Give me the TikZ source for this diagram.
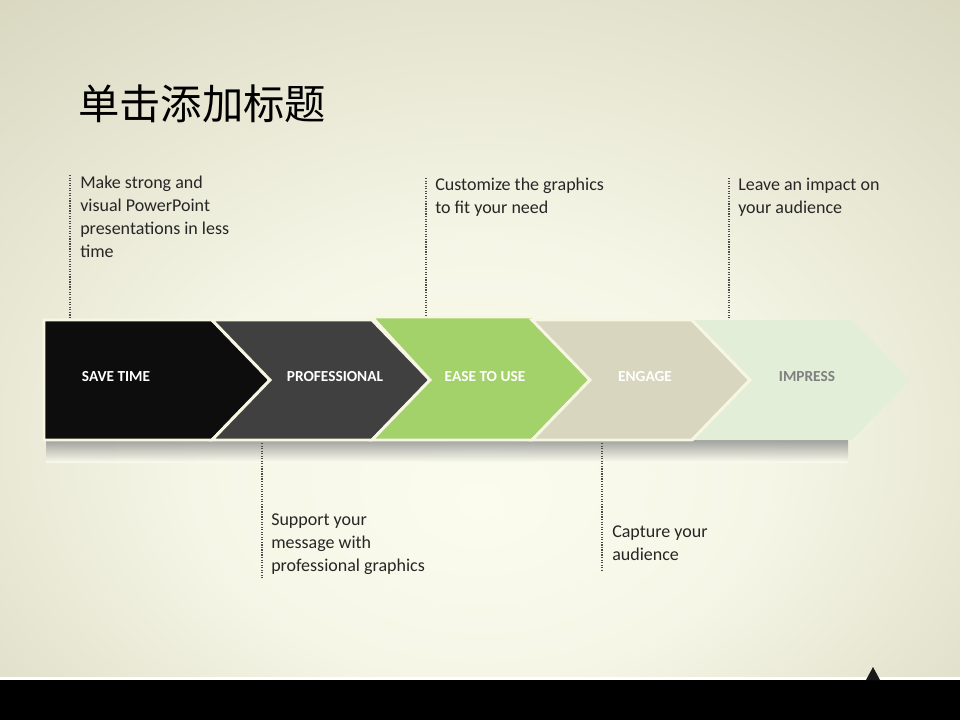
\documentclass[tikz,border=0pt]{standalone}
\usepackage{fontspec}
\setmainfont{Carlito}
\newfontfamily\cjk{Noto Sans CJK SC}
\usetikzlibrary{shadings}
\definecolor{bgc}{HTML}{FBFCEE}
\definecolor{bge}{HTML}{D6D4BC}
\definecolor{cream}{HTML}{F6F6E2}
\definecolor{txt}{HTML}{262626}
\pgfdeclareradialshading{bgshade}{\pgfpoint{0bp}{-10bp}}{color(0bp)=(bgc); color(15bp)=(bgc!85!bge); color(40bp)=(bge); color(50bp)=(bge)}
\tikzset{
  chev/.style={draw=cream, line width=2.2pt, line join=miter},
  lbl/.style={font=\bfseries\fontsize{11.5}{12}\selectfont, text=white},
  desc/.style={anchor=north west, align=left, font=\fontsize{13.5}{17.2}\selectfont, text=txt, inner sep=0pt},
  dot/.style={densely dotted, line width=0.9pt, draw=black!70}
}
\begin{document}
\begin{tikzpicture}[x=0.75pt,y=-0.75pt]
\useasboundingbox (0,0) rectangle (960,720);
\shade[shading=bgshade] (0,0) rectangle (960,720);
% title
\node[anchor=west, font=\cjk\fontsize{31}{34}\selectfont, inner sep=0pt] (title) at (78,104) {单击添加标题};
% shadow under chevrons
\shade[top color=black!45, bottom color=bgc, opacity=0.8] (46,440) rectangle (848,462);
% chevrons
\fill[chev, fill=black!95] (44,320) -- (212,320) -- (270,380) -- (212,440) -- (44,440) -- cycle;
\fill[chev, fill=black!75] (212,320) -- (372,320) -- (430,380) -- (372,440) -- (212,440) -- (270,380) -- cycle;
\fill[chev, fill={rgb,255:red,163;green,209;blue,106}] (372,317) -- (532,317) -- (590,380) -- (532,440) -- (372,440) -- (430,380) -- cycle;
\fill[chev, fill={rgb,255:red,216;green,214;blue,191}] (532,320) -- (692,320) -- (750,380) -- (692,440) -- (532,440) -- (590,380) -- cycle;
\fill[draw=none, fill={rgb,255:red,226;green,238;blue,215}] (692,320) -- (852,320) -- (910,380) -- (852,440) -- (692,440) -- (750,380) -- cycle;
\draw[chev, fill=none] (692,320) -- (750,380) -- (692,440);
\node[lbl] (s1) at (116,377) {SAVE TIME};
\node[lbl] (s2) at (335,377) {PROFESSIONAL};
\node[lbl] (s3) at (485,377) {EASE TO USE};
\node[lbl] (s4) at (645,377) {ENGAGE};
\node[lbl, text=black!50] (s5) at (807,377) {IMPRESS};
% descriptions
\node[desc] (d1) at (80,176) {Make strong and\\visual PowerPoint\\presentations in less\\time};
\node[desc] (d2) at (435,178) {Customize the graphics\\to fit your need};
\node[desc] (d3) at (738,178) {Leave an impact on\\your audience};
\node[desc] (d4) at (271,514) {Support your\\message with\\professional graphics};
\node[desc] (d5) at (612,526) {Capture your\\audience};
% dotted connectors
\coordinate (a1) at (70,175); \coordinate (b1) at (70,318);
\coordinate (a2) at (426,178); \coordinate (b2) at (426,315);
\coordinate (a3) at (729,178); \coordinate (b3) at (729,318);
\coordinate (a4) at (262,443); \coordinate (b4) at (262,578);
\coordinate (a5) at (602,443); \coordinate (b5) at (602,570);
\foreach \i in {1,...,5} {\draw[dot] (a\i) -- (b\i);}
% bottom band
\fill[white] (0,677) rectangle (960,681);
\fill[black] (0,680) rectangle (960,720);
\fill[black!90] (866,680) -- (873,667) -- (880,680) -- cycle;
\end{tikzpicture}
\end{document}
